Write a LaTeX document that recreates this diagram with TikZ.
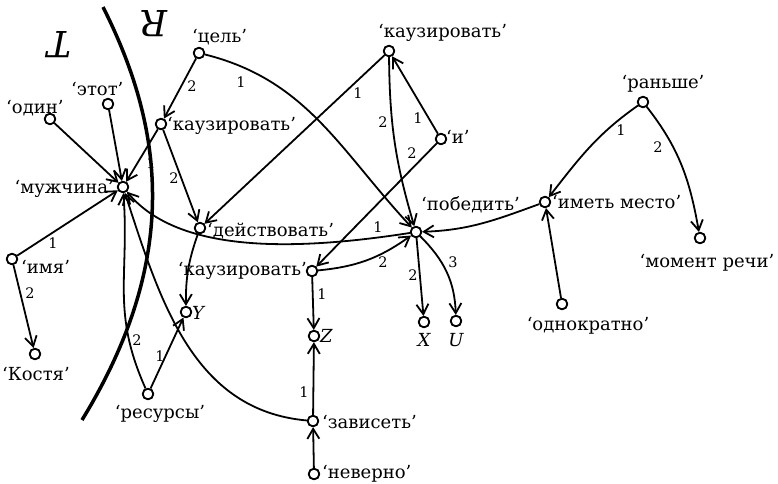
\documentclass[tikz,border=0pt]{standalone}
\usepackage{fontspec}
\setmainfont{DejaVu Serif}
\usetikzlibrary{arrows.meta}
\begin{document}
\begin{tikzpicture}[x=1pt,y=1pt,
  v/.style={circle,draw,fill=white,line width=1.7pt,minimum size=10.5pt,inner sep=0pt},
  txt/.style={inner sep=0pt,font=\fontsize{18}{20}\selectfont},
  num/.style={inner sep=0pt,font=\fontsize{14.5}{16}\selectfont},
  big/.style={inner sep=0pt,font=\fontsize{36}{40}\selectfont\itshape,rotate=180},
  ed/.style={line width=1.8pt,-{Straight Barb[length=10pt,width=12pt,line width=1.8pt]}},
  border/.style={line width=3.5pt}]
\useasboundingbox (0,0) rectangle (778,-483);
% vertices
\node[v] (M) at (123,-187) {};
\node[v] (D) at (200,-228) {};
\node[v] (P) at (416,-232) {};
\node[v] (IM) at (545,-202) {};
\node[v] (K2) at (389,-51) {};
\node[v] (I) at (441,-139) {};
\node[v] (C) at (199,-53) {};
\node[v] (K1) at (161,-124) {};
\node[v] (O1) at (50,-119) {};
\node[v] (E) at (108,-104) {};
\node[v] (N) at (12,-259) {};
\node[v] (KO) at (35,-354) {};
\node[v] (RS) at (148,-394) {};
\node[v] (Y) at (186,-312) {};
\node[v] (K3) at (312,-271) {};
\node[v] (Z) at (314,-336) {};
\node[v] (ZV) at (313,-421) {};
\node[v] (NV) at (314,-474) {};
\node[v] (X) at (424,-322) {};
\node[v] (U) at (456,-321) {};
\node[v] (RN) at (643,-102) {};
\node[v] (MR) at (700,-238) {};
\node[v] (OD) at (562,-304) {};
% border line
\draw[border] (103,-7) .. controls (165,-130) and (180,-260) .. (82,-420);
\node[big] (TT) at (59,-45) {T};
\node[big] (RR) at (154,-24) {R};
% edges
\draw[ed] (O1) -- (M);
\draw[ed] (E) -- (M);
\draw[ed] (K1) -- (M);
\draw[ed] (K1) -- (D);
\draw[ed] (C) -- (K1);
\draw[ed] (C) to[out=-14,in=133] (P);
\draw[ed] (N) -- (M);
\draw[ed] (N) -- (KO);
\draw[ed] (RS) to[out=114,in=-86,looseness=1.1] (M);
\draw[ed] (RS) -- (Y);
\draw[ed] (ZV) to[out=175,in=-72] (M);
\draw[ed] (P) .. controls (300,-250) and (180,-255) .. (M);
\draw[ed] (D) to[bend right=10] (Y);
\draw[ed] (K2) -- (D);
\draw[ed] (K2) to[bend right=8] (P);
\draw[ed] (I) -- (K2);
\draw[ed] (I) -- (K3);
\draw[ed] (K3) to[bend right=15] (P);
\draw[ed] (K3) -- (Z);
\draw[ed] (ZV) -- (Z);
\draw[ed] (NV) -- (ZV);
\draw[ed] (P) -- (X);
\draw[ed] (P) to[out=-45,in=92] (U);
\draw[ed] (IM) to[out=200,in=2] (P);
\draw[ed] (RN) to[out=215,in=52] (IM);
\draw[ed] (RN) to[out=-52,in=100] (MR);
\draw[ed] (OD) -- (IM);
% redraw vertices on top
\foreach \n in {M,D,P,IM,K2,I,C,K1,O1,E,N,KO,RS,Y,K3,Z,ZV,NV,X,U,RN,MR,OD}
  \draw[fill=white,line width=1.7pt] (\n) circle (5.25pt);
% texts
\node[txt,anchor=base west] (tO1) at (6,-113) {‘один’};
\node[txt,anchor=base west] (tE) at (71,-95) {‘этот’};
\node[txt,anchor=base west] (tC) at (192,-42) {‘цель’};
\node[txt,anchor=base west] (tK1) at (167,-130) {‘каузировать’};
\node[txt,anchor=base east] (tM) at (114,-193) {‘мужчина’};
\node[txt,anchor=base west] (tD) at (207,-236) {‘действовать’};
\node[txt,anchor=base west] (tK2) at (378,-37) {‘каузировать’};
\node[txt,anchor=base west] (tI) at (446,-143) {‘и’};
\node[txt,anchor=base west] (tP) at (421,-210) {‘победить’};
\node[txt,anchor=base west] (tIM) at (552,-208) {‘иметь место’};
\node[txt,anchor=base] (tRN) at (663,-88) {‘раньше’};
\node[txt,anchor=base] (tMR) at (707,-267) {‘момент речи’};
\node[txt,anchor=base] (tOD) at (588,-330) {‘однократно’};
\node[txt,anchor=base west] (tN) at (21,-273) {‘имя’};
\node[txt,anchor=base] (tKO) at (36,-380) {‘Костя’};
\node[txt,anchor=base] (tRS) at (160,-418) {‘ресурсы’};
\node[txt,anchor=base west] (tY) at (192,-319) {\itshape Y};
\node[txt,anchor=base east] (tK3) at (307,-275) {‘каузировать’};
\node[txt,anchor=base west] (tZ) at (320,-342) {\itshape Z};
\node[txt,anchor=base west] (tZV) at (322,-428) {‘зависеть’};
\node[txt,anchor=base west] (tNV) at (322,-478) {‘неверно’};
\node[txt,anchor=base] (tX) at (424,-346) {\itshape X};
\node[txt,anchor=base] (tU) at (456,-346) {\itshape U};
% edge numbers
\node[num] (n1) at (151,-163) {1};
\node[num] (n2) at (174,-178) {2};
\node[num] (n3) at (192,-86) {2};
\node[num] (n4) at (241,-82) {1};
\node[num] (n5) at (53,-243) {1};
\node[num] (n6) at (30,-293) {2};
\node[num] (n7) at (137,-340) {2};
\node[num] (n8) at (160,-356) {1};
\node[num] (n9) at (378,-227) {1};
\node[num] (n10) at (358,-93) {1};
\node[num] (n11) at (383,-122) {2};
\node[num] (n12) at (418,-118) {1};
\node[num] (n13) at (412,-153) {2};
\node[num] (n14) at (383,-262) {2};
\node[num] (n15) at (322,-294) {1};
\node[num] (n16) at (304,-392) {1};
\node[num] (n17) at (413,-275) {2};
\node[num] (n18) at (453,-262) {3};
\node[num] (n19) at (621,-130) {1};
\node[num] (n20) at (658,-147) {2};
\end{tikzpicture}
\end{document}
